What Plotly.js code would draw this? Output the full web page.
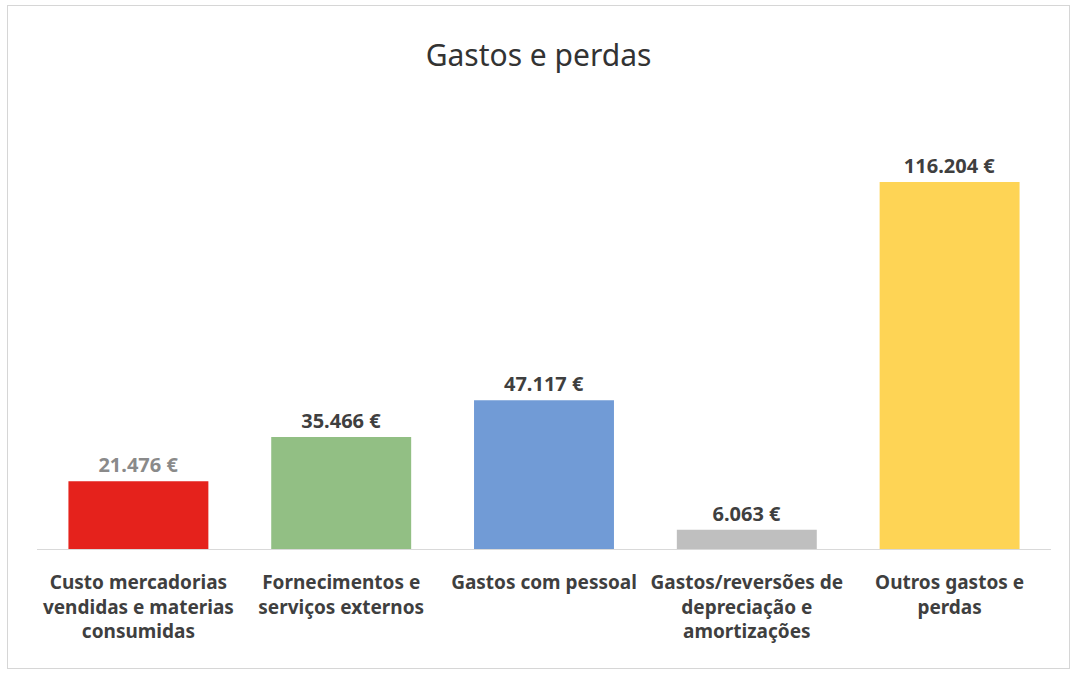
<!DOCTYPE html>
<html>
<head>
<meta charset="utf-8">
<script src="https://cdn.plot.ly/plotly-3.0.1.min.js"></script>
<style>
  html, body { margin: 0; padding: 0; background: #ffffff; }
  #frame { position: absolute; left: 7px; top: 5px; width: 1061px; height: 662px; border: 1px solid #d6d6d6; }
  #chart { width: 1061px; height: 662px; }
</style>
</head>
<body>
<div id="frame"><div id="chart"></div></div>
<script>
const categories = [
  "Custo mercadorias<br>vendidas e materias<br>consumidas",
  "Fornecimentos e<br>serviços externos",
  "Gastos com pessoal",
  "Gastos/reversões de<br>depreciação e<br>amortizações",
  "Outros gastos e<br>perdas"
];
const values = [21476, 35466, 47117, 6063, 116204];
const valueLabels = ["21.476 €", "35.466 €", "47.117 €", "6.063 €", "116.204 €"];
const barColors = ["#e5221c", "#92bf84", "#719bd6", "#bfbfbf", "#fed455"];
const labelColors = ["#8a8a8a", "#3f3f3f", "#3f3f3f", "#3f3f3f", "#3f3f3f"];

const FONT = "Noto Sans, sans-serif";

const trace = {
  type: "bar",
  x: categories,
  y: values,
  marker: { color: barColors },
  text: valueLabels,
  textposition: "outside",
  cliponaxis: false,
  textfont: { family: FONT, size: 20, color: labelColors, weight: "bold" },
  hoverinfo: "skip"
};

const layout = {
  width: 1061,
  height: 662,
  margin: { l: 29, r: 18, t: 94, b: 119 },
  paper_bgcolor: "#ffffff",
  plot_bgcolor: "#ffffff",
  bargap: 0.31,
  showlegend: false,
  title: {
    text: "Gastos e perdas",
    font: { family: FONT, size: 30, color: "#333333" },
    x: 0.5, xanchor: "center",
    y: 1 - 49 / 662, yref: "container", yanchor: "middle"
  },
  xaxis: {
    type: "category",
    showline: true,
    linecolor: "#d9d9d9",
    linewidth: 1,
    ticks: "",
    tickangle: 0,
    ticklabelstandoff: 16,
    tickfont: { family: FONT, size: 19, color: "#3f3f3f", weight: "bold" },
    showgrid: false,
    zeroline: false
  },
  yaxis: {
    range: [0, 142180],
    visible: false,
    showgrid: false,
    zeroline: false
  }
};

Plotly.newPlot("chart", [trace], layout, { displayModeBar: false, staticPlot: true });
</script>
</body>
</html>
